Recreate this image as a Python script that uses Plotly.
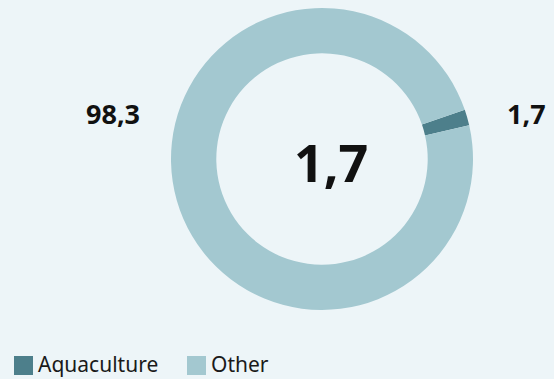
import plotly.graph_objects as go

# Share of production (%)
labels = ["Aquaculture", "Other"]
values = [1.7, 98.3]
colors = ["#4d7f8b", "#a3c8d0"]

W, H = 554, 379
BG = "#edf5f8"
FONT = "Noto Sans"


def fmt(v):
    return f"{v:.1f}".replace(".", ",")


def px_x(x):
    return x / W


def px_y(y):
    return 1 - y / H


fig = go.Figure(
    go.Pie(
        labels=labels,
        values=values,
        marker=dict(colors=colors, line=dict(width=0)),
        hole=0.70,
        sort=False,
        direction="clockwise",
        rotation=71,
        textinfo="none",
        hoverinfo="label+value",
        domain=dict(x=[px_x(171), px_x(473)], y=[px_y(310), px_y(8)]),
        showlegend=False,
    )
)

annotations = [
    # headline value in the hole
    dict(x=px_x(331), y=px_y(161), text=f"<b>{fmt(values[0])}</b>",
         font=dict(size=52, color="#111111", family=FONT)),
    # outside value labels
    dict(x=px_x(113), y=px_y(113), text=f"<b>{fmt(values[1])}</b>",
         font=dict(size=27, color="#111111", family=FONT)),
    dict(x=px_x(526), y=px_y(113), text=f"<b>{fmt(values[0])}</b>",
         font=dict(size=27, color="#111111", family=FONT)),
]
for a in annotations:
    a.update(xref="paper", yref="paper", showarrow=False,
             xanchor="center", yanchor="middle")

# Hand-drawn legend with large swatches
shapes = []
legend_x = [14, 187]
for lab, col, lx in zip(labels, colors, legend_x):
    shapes.append(dict(type="rect", xref="paper", yref="paper",
                       x0=px_x(lx), x1=px_x(lx + 19),
                       y0=px_y(375), y1=px_y(356),
                       fillcolor=col, line=dict(width=0)))
    annotations.append(dict(x=px_x(lx + 23), y=px_y(364), text=lab,
                            xref="paper", yref="paper", showarrow=False,
                            xanchor="left", yanchor="middle", borderpad=0,
                            font=dict(size=21, color="#1a1a1a", family=FONT)))

fig.update_layout(
    width=W, height=H,
    margin=dict(l=0, r=0, t=0, b=0),
    paper_bgcolor=BG, plot_bgcolor=BG,
    annotations=annotations,
    shapes=shapes,
)

fig.write_html("out.html")
